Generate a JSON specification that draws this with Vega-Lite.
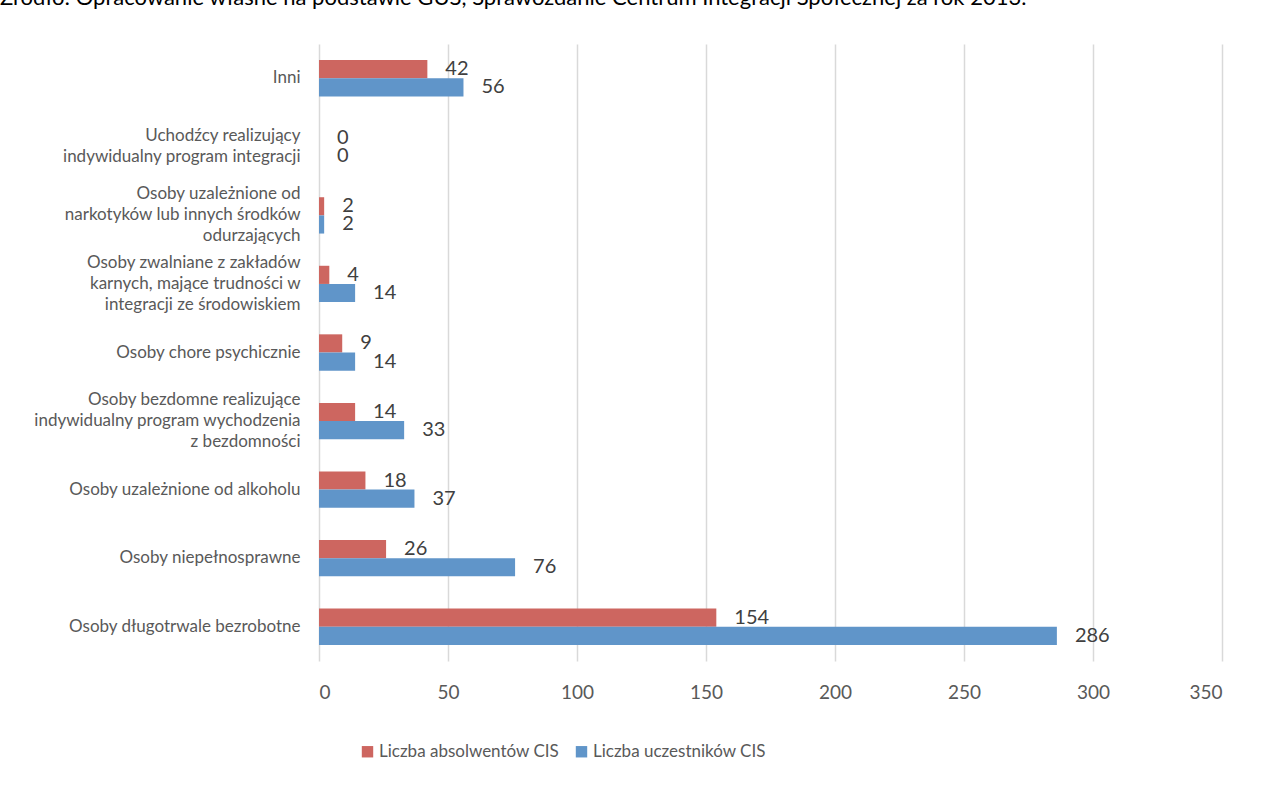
{
  "$schema": "https://vega.github.io/schema/vega-lite/v6.json",
  "autosize": {"type": "none"},
  "width": 903,
  "height": 617,
  "padding": {"left": 319, "top": 44, "right": 50, "bottom": 126},
  "background": "white",
  "title": {
    "text": "Źródło: Opracowanie własne na podstawie GUS, Sprawozdanie Centrum Integracji Społecznej za rok 2013.",
    "anchor": "start",
    "frame": "group",
    "dx": -319,
    "baseline": "bottom",
    "offset": 12,
    "font": "Lato",
    "fontSize": 22,
    "fontWeight": "normal",
    "color": "#000000"
  },
  "data": {
    "values": [
      {"kategoria": "Inni", "seria": "Liczba absolwentów CIS", "wartosc": 42},
      {"kategoria": "Inni", "seria": "Liczba uczestników CIS", "wartosc": 56},
      {"kategoria": "Uchodźcy realizujący\nindywidualny program integracji", "seria": "Liczba absolwentów CIS", "wartosc": 0},
      {"kategoria": "Uchodźcy realizujący\nindywidualny program integracji", "seria": "Liczba uczestników CIS", "wartosc": 0},
      {"kategoria": "Osoby uzależnione od\nnarkotyków lub innych środków\nodurzających", "seria": "Liczba absolwentów CIS", "wartosc": 2},
      {"kategoria": "Osoby uzależnione od\nnarkotyków lub innych środków\nodurzających", "seria": "Liczba uczestników CIS", "wartosc": 2},
      {"kategoria": "Osoby zwalniane z zakładów\nkarnych, mające trudności w\nintegracji ze środowiskiem", "seria": "Liczba absolwentów CIS", "wartosc": 4},
      {"kategoria": "Osoby zwalniane z zakładów\nkarnych, mające trudności w\nintegracji ze środowiskiem", "seria": "Liczba uczestników CIS", "wartosc": 14},
      {"kategoria": "Osoby chore psychicznie", "seria": "Liczba absolwentów CIS", "wartosc": 9},
      {"kategoria": "Osoby chore psychicznie", "seria": "Liczba uczestników CIS", "wartosc": 14},
      {"kategoria": "Osoby bezdomne realizujące\nindywidualny program wychodzenia\nz bezdomności", "seria": "Liczba absolwentów CIS", "wartosc": 14},
      {"kategoria": "Osoby bezdomne realizujące\nindywidualny program wychodzenia\nz bezdomności", "seria": "Liczba uczestników CIS", "wartosc": 33},
      {"kategoria": "Osoby uzależnione od alkoholu", "seria": "Liczba absolwentów CIS", "wartosc": 18},
      {"kategoria": "Osoby uzależnione od alkoholu", "seria": "Liczba uczestników CIS", "wartosc": 37},
      {"kategoria": "Osoby niepełnosprawne", "seria": "Liczba absolwentów CIS", "wartosc": 26},
      {"kategoria": "Osoby niepełnosprawne", "seria": "Liczba uczestników CIS", "wartosc": 76},
      {"kategoria": "Osoby długotrwale bezrobotne", "seria": "Liczba absolwentów CIS", "wartosc": 154},
      {"kategoria": "Osoby długotrwale bezrobotne", "seria": "Liczba uczestników CIS", "wartosc": 286}
    ]
  },
  "encoding": {
    "y": {
      "field": "kategoria",
      "type": "nominal",
      "sort": null,
      "title": null,
      "scale": {"paddingInner": 0.47, "paddingOuter": 0.235},
      "axis": {
        "labelExpr": "split(datum.label, '\\n')",
        "labelFont": "Lato",
        "labelFontSize": 17,
        "labelColor": "#595959",
        "labelLineHeight": 21,
        "labelPadding": 19,
        "labelLimit": 400,
        "labelOffset": {"expr": "-(length(split(datum.label, '\\n')) - 1) * 10.5"},
        "ticks": false,
        "domain": false,
        "grid": false
      }
    },
    "yOffset": {
      "field": "seria",
      "type": "nominal",
      "sort": ["Liczba absolwentów CIS", "Liczba uczestników CIS"]
    },
    "x": {
      "field": "wartosc",
      "type": "quantitative",
      "title": null,
      "scale": {"domain": [0, 350], "nice": false},
      "axis": {
        "values": [0, 50, 100, 150, 200, 250, 300, 350],
        "labelFont": "Lato",
        "labelFontSize": 19,
        "labelColor": "#595959",
        "labelPadding": 22,
        "ticks": false,
        "domain": false,
        "grid": true,
        "gridColor": "#d9d9d9",
        "gridWidth": 1.5
      }
    }
  },
  "layer": [
    {
      "mark": {"type": "bar"},
      "encoding": {
        "color": {
          "field": "seria",
          "type": "nominal",
          "title": null,
          "scale": {
            "domain": ["Liczba absolwentów CIS", "Liczba uczestników CIS"],
            "range": ["#CD6660", "#6095C9"]
          },
          "legend": {
            "orient": "none",
            "legendX": 40,
            "legendY": 699,
            "direction": "horizontal",
            "symbolType": "square",
            "symbolSize": 130,
            "symbolStrokeWidth": 0,
            "labelFont": "Lato",
            "labelFontSize": 17,
            "labelColor": "#595959",
            "labelOffset": 3,
            "columnPadding": 13,
            "labelLimit": 400
          }
        }
      }
    },
    {
      "mark": {
        "type": "text",
        "align": "left",
        "baseline": "middle",
        "dx": 18,
        "font": "Lato",
        "fontSize": 20,
        "color": "#404040"
      },
      "encoding": {
        "text": {"field": "wartosc", "type": "quantitative"}
      }
    }
  ],
  "config": {
    "view": {"stroke": null}
  }
}
